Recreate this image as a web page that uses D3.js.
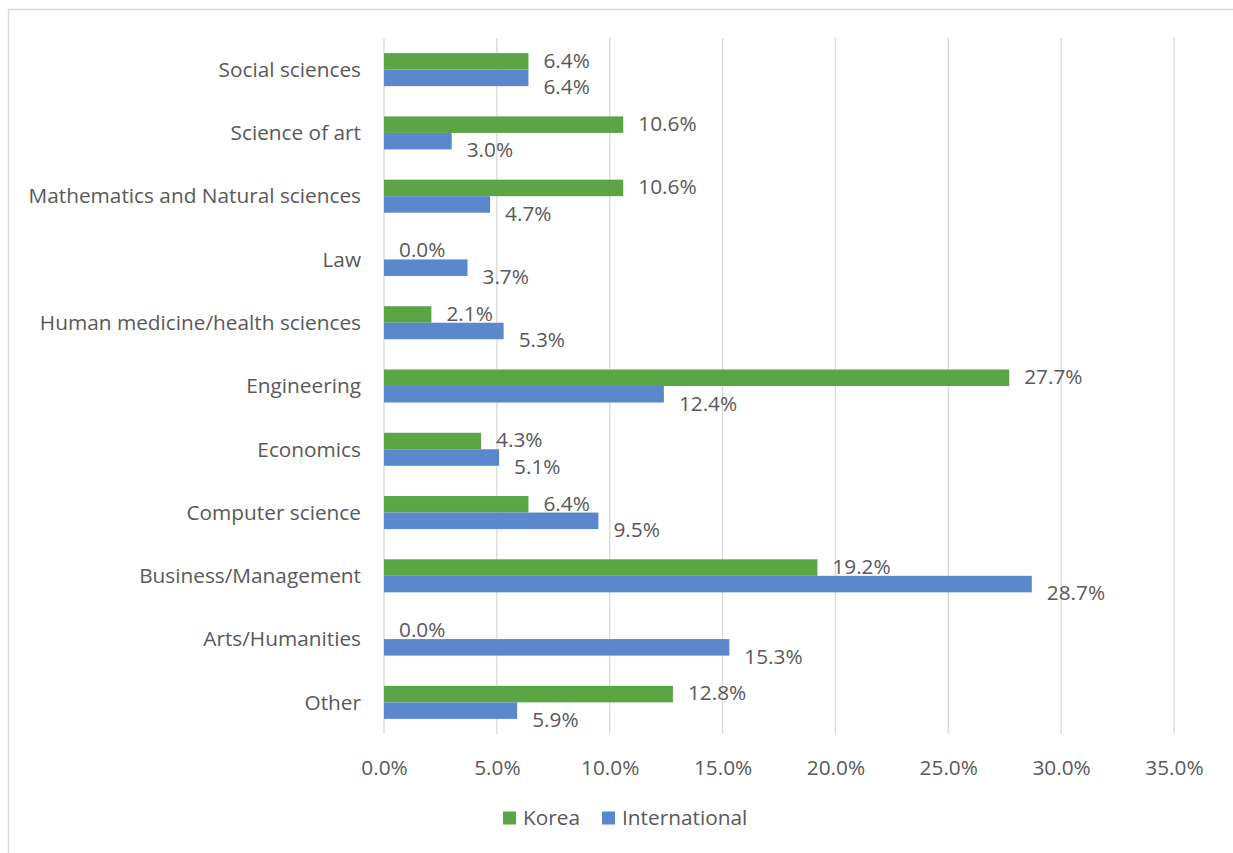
<!DOCTYPE html>
<html>
<head>
<meta charset="utf-8">
<script src="https://cdn.jsdelivr.net/npm/d3@7"></script>
<style>
  html, body { margin: 0; padding: 0; background: #fff; }
  svg { display: block; }
  text { font-family: "Open Sans", Lato, sans-serif; fill: #595959; }
</style>
</head>
<body>
<svg id="chart" width="1233" height="853"></svg>
<script>
// Field of study shares, top row first
const categories = [
  "Social sciences",
  "Science of art",
  "Mathematics and Natural sciences",
  "Law",
  "Human medicine/health sciences",
  "Engineering",
  "Economics",
  "Computer science",
  "Business/Management",
  "Arts/Humanities",
  "Other"
];
const seriesNames = ["Korea", "International"];
const koreaValues = [6.4, 10.6, 10.6, 0.0, 2.1, 27.7, 4.3, 6.4, 19.2, 0.0, 12.8];
const internationalValues = [6.4, 3.0, 4.7, 3.7, 5.3, 12.4, 5.1, 9.5, 28.7, 15.3, 5.9];
const xTicks = [0, 5, 10, 15, 20, 25, 30, 35];
const colors = ["#5ba545", "#5b88cd"];

const fontSize = "20.8px";
const svg = d3.select("#chart");

// outer chart frame
svg.append("rect")
  .attr("x", 8.5).attr("y", 9.5)
  .attr("width", 1240).attr("height", 860)
  .attr("fill", "none").attr("stroke", "#d9d9d9").attr("stroke-width", 1.5);

const plot = { left: 384, right: 1174, top: 38, bottom: 734 };

const x = d3.scaleLinear().domain([0, 35]).range([plot.left, plot.right]);
const y = d3.scaleBand().domain(categories).range([plot.top, plot.bottom]).paddingInner(0.478).paddingOuter(0.239);
const sub = d3.scaleBand().domain(seriesNames).range([0, y.bandwidth()]);

// vertical gridlines
svg.append("g")
  .selectAll("line")
  .data(xTicks)
  .join("line")
  .attr("x1", d => x(d)).attr("x2", d => x(d))
  .attr("y1", plot.top).attr("y2", plot.bottom)
  .attr("stroke", "#d9d9d9").attr("stroke-width", 1.3);

// x tick labels
const xAxis = d3.axisBottom(x).tickValues(xTicks).tickFormat(d => d.toFixed(1) + "%").tickSize(0).tickPadding(0);
const gx = svg.append("g").attr("transform", `translate(0,${plot.bottom})`).call(xAxis);
gx.select(".domain").remove();
gx.selectAll("text")
  .attr("y", 34).attr("dy", "0.35em")
  .style("font-size", fontSize)
  .style("font-family", "'Open Sans', Lato, sans-serif")
  .attr("fill", "#595959");

// category labels
const yAxis = d3.axisLeft(y).tickSize(0).tickPadding(0);
const gy = svg.append("g").attr("transform", `translate(${plot.left},0)`).call(yAxis);
gy.select(".domain").remove();
gy.selectAll("text")
  .attr("x", -23).attr("dy", "0.35em")
  .style("font-size", fontSize)
  .style("font-family", "'Open Sans', Lato, sans-serif")
  .attr("fill", "#595959");

const rows = categories.map((c, i) => ({
  category: c,
  values: [
    { series: "Korea", value: koreaValues[i] },
    { series: "International", value: internationalValues[i] }
  ]
}));

const groups = svg.append("g")
  .selectAll("g")
  .data(rows)
  .join("g")
  .attr("transform", d => `translate(0,${y(d.category)})`);

groups.selectAll("rect")
  .data(d => d.values)
  .join("rect")
  .attr("x", x(0))
  .attr("y", d => sub(d.series))
  .attr("width", d => x(d.value) - x(0))
  .attr("height", sub.bandwidth())
  .attr("fill", (d, i) => colors[i]);

// value labels at bar ends
groups.selectAll("text")
  .data(d => d.values)
  .join("text")
  .attr("x", d => x(d.value) + 15)
  .attr("y", (d, i) => sub(d.series) + sub.bandwidth() / 2 + (i === 0 ? -1 : 9))
  .attr("dy", "0.35em")
  .style("font-size", fontSize)
  .text(d => d.value.toFixed(1) + "%");

// legend
const legend = svg.append("g").attr("transform", "translate(503,818)");
const legendX = [0, 99];
seriesNames.forEach((name, i) => {
  const g = legend.append("g").attr("transform", `translate(${legendX[i]},0)`);
  g.append("rect").attr("x", 0).attr("y", -6.5).attr("width", 13).attr("height", 13).attr("fill", colors[i]);
  g.append("text").attr("x", 20).attr("dy", "0.35em").style("font-size", fontSize).text(name);
});
</script>
</body>
</html>
